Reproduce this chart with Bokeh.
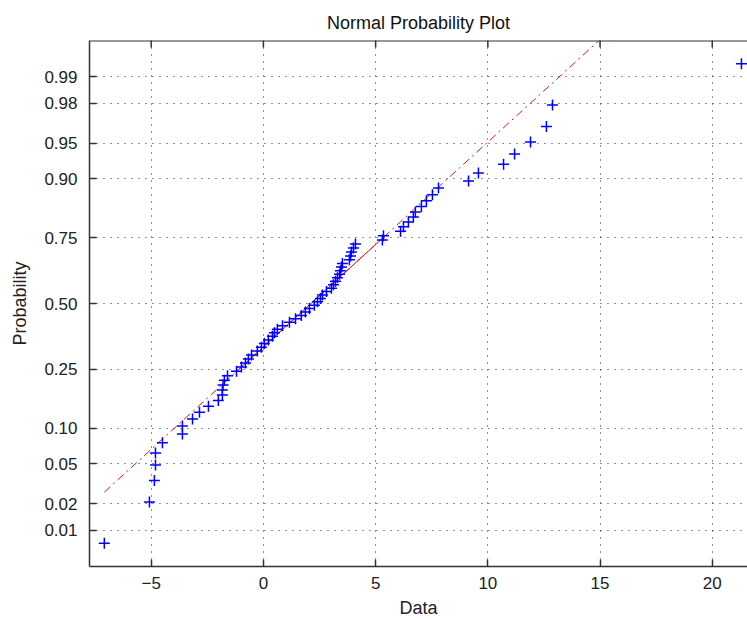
from statistics import NormalDist
import numpy as np
from bokeh.plotting import figure
from bokeh.models import FixedTicker, Range1d, ColumnDataSource, Span
from bokeh.embed import file_html
from bokeh.resources import INLINE

# sorted sample values
data = [-7.09, -5.08, -4.86, -4.81, -4.81, -4.50, -3.61, -3.61, -3.16, -2.85,
        -2.45, -2.01, -1.83, -1.83, -1.80, -1.74, -1.60, -1.20, -0.98, -0.80,
        -0.67, -0.53, -0.27, -0.09, 0.04, 0.22, 0.40, 0.49, 0.62, 0.85,
        1.16, 1.43, 1.69, 1.87, 2.05, 2.27, 2.41, 2.54, 2.63, 2.81,
        3.03, 3.12, 3.21, 3.30, 3.39, 3.43, 3.48, 3.52, 3.83, 3.88,
        3.92, 4.01, 4.10, 5.30, 5.35, 6.11, 6.24, 6.46, 6.68, 6.77,
        7.04, 7.26, 7.53, 7.80, 9.14, 9.58, 10.70, 11.19, 11.90, 12.61,
        12.88, 21.30]
prob_ticks = [0.01, 0.02, 0.05, 0.10, 0.25, 0.50, 0.75, 0.90, 0.95, 0.98, 0.99]
prob_labels = ["0.01", "0.02", "0.05", "0.10", "0.25", "0.50", "0.75", "0.90", "0.95", "0.98", "0.99"]
x_ticks = [-5, 0, 5, 10, 15, 20]

nd = NormalDist()
n = len(data)
x = np.sort(np.array(data))
zq = [nd.inv_cdf((i - 0.5) / n) for i in range(1, n + 1)]

q1, q3 = np.percentile(x, [25, 75], method="hazen")
z1, z3 = nd.inv_cdf(0.25), nd.inv_cdf(0.75)
slope = (z3 - z1) / (q3 - q1)
def zline(v):
    return z1 + (v - q1) * slope

ylim = nd.inv_cdf(1 - 0.25 / n)

FONT = "Liberation Sans"
AX = "#333333"

p = figure(width=747, height=620, output_backend="svg", toolbar_location=None,
           x_range=Range1d(-7.75, 21.57), y_range=Range1d(-ylim, ylim),
           title="Normal Probability Plot", min_border_left=89, min_border_right=0,
           min_border_top=40, min_border_bottom=10)
p.outline_line_color = None
p.background_fill_color = "white"
p.border_fill_color = "white"

p.title.align = "center"
p.title.text_font = FONT
p.title.text_font_size = "18px"
p.title.text_font_style = "normal"
p.title.text_color = "#111111"
p.title.standoff = 16

# dash-dot reference line over full range, solid between quartiles
p.line([x.min(), x.max()], [zline(x.min()), zline(x.max())], line_color="#d02020",
       line_width=1, line_dash="8 4 2 4")
p.line([q1, q3], [z1, z3], line_color="#d02020", line_width=1)

src = ColumnDataSource(dict(x=x, y=zq))
p.scatter("x", "y", source=src, marker="cross", size=11, line_color="#0000ff",
          line_width=1.5)

ytick_pos = [nd.inv_cdf(v) for v in prob_ticks]
p.yaxis.ticker = FixedTicker(ticks=ytick_pos)
p.yaxis.major_label_overrides = {t: l for t, l in zip(ytick_pos, prob_labels)}
p.xaxis.ticker = FixedTicker(ticks=x_ticks)

for ax in (p.xaxis[0], p.yaxis[0]):
    ax.major_tick_in = 7
    ax.major_tick_out = 0
    ax.minor_tick_in = 0
    ax.minor_tick_out = 0
    ax.axis_line_color = AX
    ax.axis_line_width = 1.5
    ax.major_tick_line_color = AX
    ax.major_tick_line_width = 1.5
    ax.major_label_text_font = FONT
    ax.major_label_text_font_size = "17px"
    ax.major_label_text_color = "#222222"
    ax.axis_label_text_font = FONT
    ax.axis_label_text_font_size = "18px"
    ax.axis_label_text_font_style = "normal"
    ax.axis_label_text_color = "#222222"

p.xaxis.axis_label = "Data"
p.yaxis.axis_label = "Probability"
p.xaxis.major_label_standoff = 10
p.xaxis.axis_label_standoff = 6
p.yaxis.major_label_standoff = 12
p.yaxis.axis_label_standoff = 11

# top border of the box with inward ticks at the x tick positions
p.add_layout(Span(location=ylim, dimension="width", line_color=AX, line_width=2))
tick_len = 7 * (2 * ylim) / 526.0
p.segment(x0=x_ticks, y0=[ylim] * len(x_ticks), x1=x_ticks,
          y1=[ylim - tick_len] * len(x_ticks), line_color=AX, line_width=1.5)

for g in (p.xgrid[0], p.ygrid[0]):
    g.grid_line_color = "#222222"
    g.grid_line_dash = "1 6"
    g.grid_line_width = 1
p.xgrid.ticker = FixedTicker(ticks=x_ticks)
p.ygrid.ticker = FixedTicker(ticks=ytick_pos)

open("out.html", "w").write(file_html(p, INLINE))
